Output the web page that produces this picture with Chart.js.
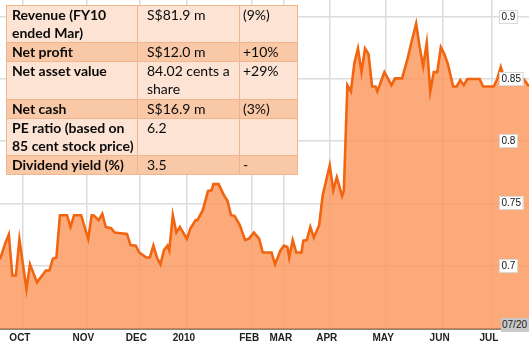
<!DOCTYPE html>
<html>
<head>
<meta charset="utf-8">
<script src="https://cdn.jsdelivr.net/npm/chart.js@4/dist/chart.umd.min.js"></script>
<style>
  html, body { margin: 0; padding: 0; background: #fff; }
  #wrap { position: relative; width: 529px; height: 355px; overflow: hidden; }
  #c { position: absolute; left: 0; top: 0; }
  #tbl { position: absolute; left: 6px; top: 5px; border-collapse: collapse; table-layout: fixed; width: 291px;
         font-family: "Lato", "Liberation Sans", sans-serif; font-size: 14px; line-height: 18px; color: #0a0a0a; }
  #tbl td { border: 1px solid #f2b48a; padding: 0 0 0 5px; vertical-align: top; white-space: nowrap; overflow: hidden; }
  #tbl td.k { font-weight: bold; font-size: 14px; }
  #tbl td.v { padding-left: 9px; }
  #tbl td.p { padding-left: 3px; }
  #tbl tr.l td { background: #fce3d3; }
  #tbl tr.d td { background: #f9c8a6; }
  #stamp { position: absolute; left: 501px; top: 318px; width: 28px; height: 14px; background: #c9c9c9;
           font-family: "Liberation Sans", Arial, sans-serif; font-size: 10px; line-height: 14px; color: #222; text-align: left; padding-left: 1px; box-sizing: border-box; }
</style>
</head>
<body>
<div id="wrap">
  <canvas id="c" width="529" height="355"></canvas>
  <table id="tbl">
    <colgroup><col style="width:131px"><col style="width:102px"><col style="width:58px"></colgroup>
    <tr class="l" style="height:36px"><td class="k">Revenue (FY10<br>ended Mar)</td><td class="v">S$81.9 m</td><td class="p">(9%)</td></tr>
    <tr class="d" style="height:19px"><td class="k">Net profit</td><td class="v">S$12.0 m</td><td class="p">+10%</td></tr>
    <tr class="l" style="height:38px"><td class="k">Net asset value</td><td class="v">84.02 cents a<br>share</td><td class="p">+29%</td></tr>
    <tr class="d" style="height:19px"><td class="k">Net cash</td><td class="v">S$16.9 m</td><td class="p">(3%)</td></tr>
    <tr class="l" style="height:37px"><td class="k">PE ratio (based on<br>85 cent stock price)</td><td class="v">6.2</td><td class="p"></td></tr>
    <tr class="d" style="height:19px"><td class="k">Dividend yield (%)</td><td class="v">3.5</td><td class="p">-</td></tr>
  </table>
  <div id="stamp">07/20</div>
</div>
<script>
// Day index (from start of the period shown) and closing price (S$)
const days = [0,3,5,7,9,11,15,17,21,26,28,30,32,34,38,40,42,46,50,52,53,56,58,60,63,65,72,74,77,79,83,85,87,89,91,93,95,96,98,100,102,106,108,111,112,115,118,120,121,124,127,129,131,133,136,139,141,144,147,149,154,156,159,161,163,164,166,168,171,172,174,176,178,181,183,187,189,191,194,195,197,199,201,203,205,207,209,211,213,214,218,222,224,228,231,233,236,238,240,242,244,246,248,250,252,254,257,259,261,263,265,272,274,280,282,284,286,297,300];
const prices = [0.705,0.718,0.725,0.692,0.692,0.721,0.681,0.701,0.6865,0.696,0.696,0.7055,0.7065,0.7405,0.7405,0.731,0.7405,0.7405,0.7215,0.7405,0.7405,0.7365,0.7415,0.731,0.730,0.7265,0.7255,0.7165,0.716,0.7105,0.7065,0.7065,0.716,0.7065,0.701,0.7125,0.716,0.712,0.7405,0.7265,0.731,0.7215,0.730,0.7365,0.7365,0.7445,0.760,0.7605,0.7655,0.7655,0.7565,0.752,0.7405,0.740,0.7325,0.7205,0.7215,0.7265,0.7215,0.7105,0.7105,0.701,0.712,0.716,0.715,0.7065,0.7205,0.7105,0.7105,0.720,0.7205,0.731,0.7225,0.7325,0.7565,0.7805,0.7605,0.771,0.756,0.760,0.845,0.840,0.863,0.8745,0.8555,0.8745,0.870,0.844,0.844,0.840,0.8555,0.845,0.8505,0.8505,0.8655,0.8775,0.8945,0.8755,0.860,0.879,0.840,0.8555,0.8555,0.8755,0.870,0.862,0.844,0.844,0.849,0.845,0.850,0.850,0.844,0.844,0.850,0.8595,0.850,0.850,0.844];
// Month labels and where they sit on the day axis
const monthLabels = ["OCT","NOV","DEC","2010","FEB","MAR","APR","MAY","JUN","JUL"];
const monthDays = [13,49,79,106,143,161,187,219,251,279];
// Price gridlines / labels
const priceTicks = [0.7,0.75,0.8,0.85,0.9];
const priceLabels = ["0.7","0.75","0.8","0.85","0.9"];

const points = days.map((d, i) => ({x: d, y: prices[i]}));

const yLabelPlugin = {
  id: 'yLabels',
  afterDatasetsDraw(chart) {
    const ctx = chart.ctx, ys = chart.scales.y;
    ctx.save();
    ctx.font = '10px "Liberation Sans", Arial, sans-serif';
    ctx.textBaseline = 'middle';
    ctx.textAlign = 'left';
    priceTicks.forEach((v, i) => {
      const y = Math.round(ys.getPixelForValue(v));
      const t = priceLabels[i];
      const w = ctx.measureText(t).width;
      const x0 = 499;
      ctx.fillStyle = '#ffffff';
      ctx.fillRect(x0, y - 7, w + 5, 14);
      ctx.strokeStyle = '#d8d8d8';
      ctx.lineWidth = 1;
      ctx.strokeRect(x0 + 0.5, y - 6.5, w + 4, 13);
      ctx.fillStyle = '#111';
      ctx.fillText(t, x0 + 2.5, y + 0.5);
    });
    ctx.restore();
  }
};

new Chart(document.getElementById('c'), {
  type: 'line',
  data: {
    datasets: [{
      data: points,
      borderColor: '#f26510',
      borderWidth: 2.6,
      backgroundColor: 'rgba(251,151,93,0.82)',
      fill: 'start',
      pointRadius: 0,
      tension: 0
    }]
  },
  options: {
    responsive: false,
    animation: false,
    devicePixelRatio: 1,
    layout: { padding: { left: 0, right: 0, top: 0, bottom: 8 } },
    plugins: { legend: { display: false }, tooltip: { enabled: false } },
    scales: {
      x: {
        type: 'linear',
        min: 0, max: 300,
        afterBuildTicks: (s) => { s.ticks = monthDays.map(v => ({value: v})); },
        ticks: {
          autoSkip: false,
          maxRotation: 0,
          padding: 3,
          labelOffset: -3,
          color: '#222',
          font: { family: '"Liberation Sans", Arial, sans-serif', size: 10, weight: 'bold' },
          callback: (v, i) => monthLabels[i]
        },
        grid: { color: '#dcdcdc', lineWidth: 1.5, drawTicks: false },
        border: { display: true, color: '#111', width: 1.5 }
      },
      y: {
        type: 'linear',
        min: 0.649, max: 0.9135,
        afterBuildTicks: (s) => { s.ticks = priceTicks.map(v => ({value: v})); },
        ticks: { display: false },
        grid: { color: '#dcdcdc', lineWidth: 1.5, drawTicks: false },
        border: { display: false }
      }
    }
  },
  plugins: [yLabelPlugin]
});
</script>
</body>
</html>
